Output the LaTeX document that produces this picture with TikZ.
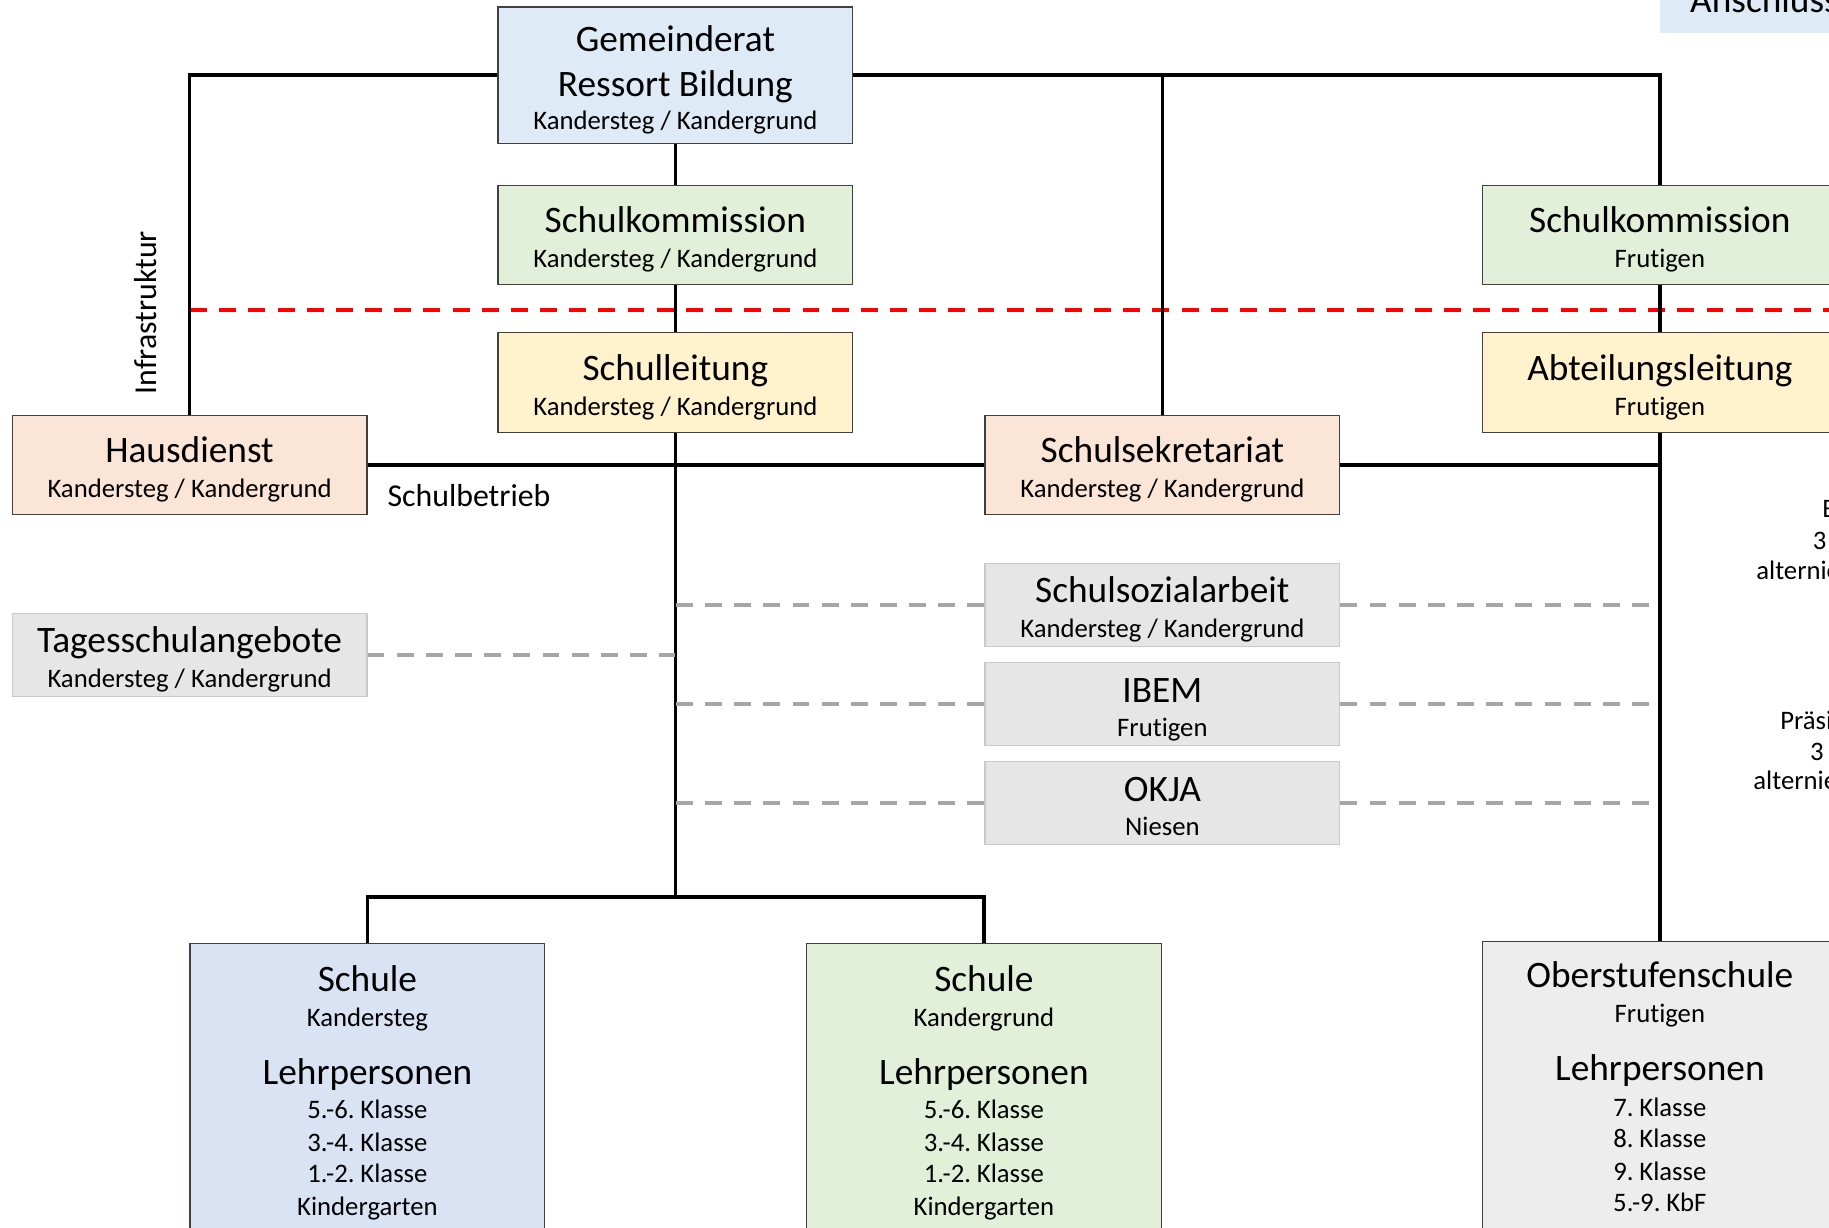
\documentclass[tikz,border=0pt]{standalone}
\usepackage{fontspec}
\setmainfont{Carlito}[Ligatures=NoCommon]
\definecolor{gblue}{HTML}{DEEBF7}
\definecolor{ggreen}{HTML}{E2F0D9}
\definecolor{gyellow}{HTML}{FFF2CC}
\definecolor{gpeach}{HTML}{FBE5D6}
\definecolor{ggrey}{HTML}{E7E6E6}
\definecolor{gbord}{HTML}{C9C9C9}
\definecolor{sblue}{HTML}{DAE3F3}
\definecolor{ogrey}{HTML}{EDEDED}
\definecolor{bbord}{HTML}{404040}
\definecolor{dgrey}{HTML}{A6A6A6}
% one line of box text: big or small, with fixed strut so that boxes align alike
\newcommand\tbig[2][39]{\fontsize{32}{#1}\selectfont\spaceskip=\fontdimen2\font\relax
  \rule[-8pt]{0pt}{40pt}#2\par}
\newcommand\tsm[2][30]{\fontsize{22.9}{#1}\selectfont\spaceskip=\fontdimen2\font\relax
  \rule[-6pt]{0pt}{18pt}#2\par}
\newcommand\tsmx[2][30]{\fontsize{22.9}{#1}\selectfont\spaceskip=\fontdimen2\font\relax
  \rule[-26pt]{0pt}{18pt}#2\par}
\begin{document}
\begin{tikzpicture}[x=1pt,y=-1pt,
  box/.style={draw=bbord, line width=1.2, fill=#1, minimum width=304, minimum height=85,
    inner sep=0pt, text width=300, align=center,
    execute at begin node={\parindent=0pt\lineskiplimit=-100pt\lineskip=0pt}},
  gbox/.style={box=ggrey, draw=gbord, minimum height=71},
  conn/.style={line width=3.2, black},
  gdash/.style={line width=3.3, dgrey, dash pattern=on 14.5 off 10.5},
  rdash/.style={line width=3.5, red, dash pattern=on 14.5 off 10.5},
  midf/.style={font=\fontsize{27.3}{30}\selectfont, inner sep=0pt},
  smf/.style={font=\fontsize{22.9}{26}\selectfont, inner sep=0pt, anchor=base west}]
\useasboundingbox (0,0) rectangle (1568,1052);
\clip (0,0) rectangle (1568,1052);

% red dashed separation
\coordinate (redL) at (163,266);
\coordinate (redR) at (1580,266);
\draw[rdash] (redL) -- (redR);

% boxes
\node[box=gblue, minimum height=117] (gr) at (579,64.5)
  {\tbig{Gemeinderat}\tbig[39]{Ressort Bildung}\tsm[28.1]{Kandersteg / Kandergrund}};
\node[box=ggreen] (skkk) at (579,201.5)
  {\tbig{Schulkommission}\tsm{Kandersteg / Kandergrund}};
\node[box=gyellow, minimum height=86] (slkk) at (579,328)
  {\tbig{Schulleitung}\tsm{Kandersteg / Kandergrund}};
\node[box=ggreen] (skfr) at (1423,201.5)
  {\tbig{Schulkommission}\tsm{Frutigen}};
\node[box=gyellow, minimum height=86] (alfr) at (1423,328)
  {\tbig{Abteilungsleitung}\tsm{Frutigen}};
\node[box=gpeach] (hd) at (162.5,398.5)
  {\tbig{Hausdienst}\tsm{Kandersteg / Kandergrund}};
\node[box=gpeach] (ss) at (996.5,398.5)
  {\tbig{Schulsekretariat}\tsm{Kandersteg / Kandergrund}};
\node[gbox] (ssa) at (996.5,518.5)
  {\tbig{Schulsozialarbeit}\tsm{Kandersteg / Kandergrund}};
\node[gbox] (ibem) at (996.5,603.5)
  {\tbig{IBEM}\tsm[29.3]{Frutigen}};
\node[gbox] (okja) at (996.5,688.5)
  {\tbig{OKJA}\tsm[29.3]{Niesen}};
\node[gbox] (ts) at (162.5,561.5)
  {\tbig{Tagesschulangebote}\tsm{Kandersteg / Kandergrund}};
\node[box=sblue, minimum height=267.5] (sk) at (315,942.75)
  {\tbig{Schule}\tsm[30.1]{Kandersteg}\tbig[49.9]{Lehrpersonen}\tsm[29.1]{5.-6. Klasse}%
   \tsm[28]{3.-4. Klasse}\tsm[27]{1.-2. Klasse}\tsmx[28]{Kindergarten}};
\node[box=ggreen, minimum height=267.5] (skg) at (843.5,942.75)
  {\tbig{Schule}\tsm[30.1]{Kandergrund}\tbig[49.9]{Lehrpersonen}\tsm[29.1]{5.-6. Klasse}%
   \tsm[28]{3.-4. Klasse}\tsm[27]{1.-2. Klasse}\tsmx[28]{Kindergarten}};
\node[box=ogrey, minimum height=265.5] (ob) at (1423,939.75)
  {\tbig{Oberstufenschule}\tsm[30.1]{Frutigen}\tbig[49.9]{Lehrpersonen}\tsm[30.1]{7. Klasse}%
   \tsm[27]{8. Klasse}\tsm[28]{9. Klasse}\tsmx[27]{5.-9. KbF}};

% top right box
\node[fill=gblue, font=\fontsize{32}{36}\selectfont, anchor=base west,
  inner xsep=26pt, inner ysep=16.7pt, outer sep=0pt] (an) at (1423,11) {Anschluss};

% solid connectors
\coordinate (split) at (579,769);
\draw[conn] (gr.west) -| (hd.north);
\draw[conn] (gr.east) -| (skfr.north);
\draw[conn] (ss.north |- gr.east) -- (ss.north);
\draw[conn] (gr.south) -- (skkk.north);
\draw[conn] (skkk.south) -- (slkk.north);
\draw[conn] (skfr.south) -- (alfr.north);
\draw[conn] (hd.east) -- (ss.west);
\draw[conn] (ss.east) -- (ss.east -| alfr.south);
\draw[conn] (slkk.south) -- (split);
\draw[conn] (sk.north) |- (split) -| (skg.north);
\draw[conn] (alfr.south) -- (ob.north);

% dashed grey connectors
\draw[gdash] (ssa.west) -- (ssa.west -| slkk.south);
\draw[gdash] (ssa.east) -- (ssa.east -| alfr.south);
\draw[gdash] (ibem.west) -- (ibem.west -| slkk.south);
\draw[gdash] (ibem.east) -- (ibem.east -| alfr.south);
\draw[gdash] (okja.west) -- (okja.west -| slkk.south);
\draw[gdash] (okja.east) -- (okja.east -| alfr.south);
\draw[gdash] (ts.east) -- (ts.east -| slkk.south);

% free labels
\node[midf, anchor=base west] (sb) at (332,434) {Schulbetrieb};
\node[midf, rotate=90] (infra) at (125,268) {Infrastruktur};

% right-edge texts (cut off by the picture edge, as in the reference)
\node[smf] (r1) at (1562,444) {B};
\node[smf] (r2) at (1554,471.5) {3};
\node[smf] (r3) at (1505.5,497) {alternierend};
\node[smf] (r4) at (1526,625) {Präsi};
\node[smf] (r5) at (1551.7,651.6) {3};
\node[smf] (r6) at (1503,677) {alternierend};
\end{tikzpicture}
\end{document}
